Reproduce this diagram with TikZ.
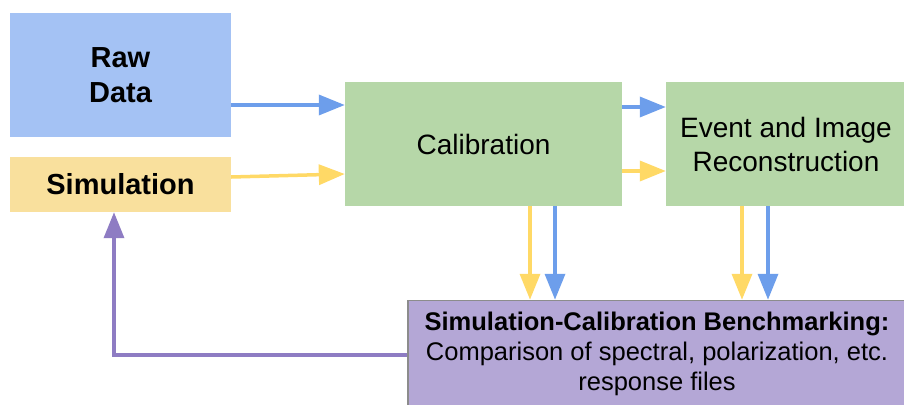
\documentclass[tikz,border=0pt]{standalone}
\usepackage{fontspec}
\setmainfont{Liberation Sans}
\usetikzlibrary{arrows.meta}
\definecolor{boxblue}{HTML}{A4C2F4}
\definecolor{boxyellow}{HTML}{F9E09D}
\definecolor{boxgreen}{HTML}{B6D7A8}
\definecolor{boxpurple}{HTML}{B4A7D6}
\definecolor{arrblue}{HTML}{6D9EEB}
\definecolor{arryellow}{HTML}{FFD966}
\definecolor{arrpurple}{HTML}{8E7CC3}
\tikzset{
  blk/.style={inner sep=0pt, align=center, text=black},
  flow/.style={line width=3.5pt, -{Triangle[length=26pt,width=20pt]}},
}
\begin{document}
\begin{tikzpicture}[x=1pt,y=-1pt]
		\useasboundingbox (0,0) rectangle (904,404);
		% boxes
		\node[blk, fill=boxblue, minimum width=221pt, minimum height=124pt,
		      font=\fontsize{29}{35}\selectfont\bfseries] (raw) at (120.5,75) {Raw\\Data};
		\node[blk, fill=boxyellow, minimum width=221pt, minimum height=55pt,
		      font=\fontsize{29}{35}\selectfont\bfseries] (sim) at (120.5,184.5) {Simulation};
		\node[blk, fill=boxgreen, minimum width=277pt, minimum height=124pt,
		      font=\fontsize{28}{34}\selectfont] (calib) at (483.5,144) {Calibration};
		\node[blk, fill=boxgreen, minimum width=240pt, minimum height=124pt,
		      font=\fontsize{28}{34}\selectfont] (reco) at (786,144) {Event and Image\\Reconstruction};
		\node[blk, fill=boxpurple, draw=black!45, line width=1.5pt, minimum width=498pt, minimum height=107pt,
		      font=\fontsize{25.5}{30}\selectfont] (bench) at (657,354)
		      {\textbf{Simulation-Calibration Benchmarking:}\\Comparison of spectral, polarization, etc.\\response files};
		% horizontal arrows
		\draw[flow, arrblue] (raw.east |- 0,105) -- (calib.west |- 0,105);
		\draw[flow, arryellow] (sim.east |- 0,177) -- (calib.west |- 0,174);
		\draw[flow, arrblue] (calib.east |- 0,107) -- (reco.west |- 0,107);
		\draw[flow, arryellow] (calib.east |- 0,171) -- (reco.west |- 0,171);
		% down arrows
		\draw[flow, arryellow] (calib.south -| 530,0) -- (bench.north -| 530,0);
		\draw[flow, arrblue] (calib.south -| 555,0) -- (bench.north -| 555,0);
		\draw[flow, arryellow] (reco.south -| 742,0) -- (bench.north -| 742,0);
		\draw[flow, arrblue] (reco.south -| 768,0) -- (bench.north -| 768,0);
		% feedback
		\draw[flow, arrpurple] (bench.west |- 0,355) -| (sim.south -| 114,0);
\end{tikzpicture}
\end{document}
